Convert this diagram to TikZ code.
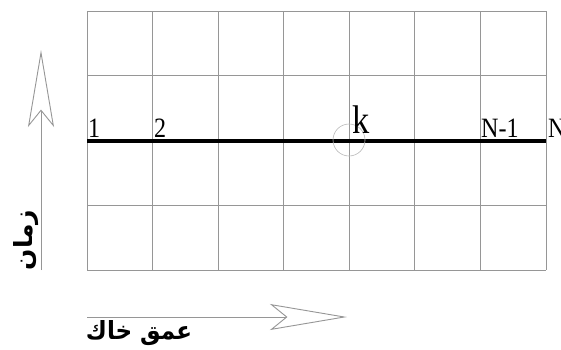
\documentclass[tikz,border=0pt]{standalone}
\usepackage{fontspec}
\setmainfont{Liberation Serif}
\newfontfamily\arabicfont[Script=Arabic]{DejaVu Sans}
\TeXXeTstate=1
\usetikzlibrary{arrows.meta,positioning}
\definecolor{gridgray}{RGB}{150,150,150}
\definecolor{ringgray}{RGB}{185,185,185}

\begin{document}
\begin{tikzpicture}[
  x=1pt, y=-1pt,
  gridline/.style={draw=gridgray, line width=0.9pt},
  nodeline/.style={draw=black, line width=3.2pt},
  num/.style={anchor=base west, inner sep=0pt, xscale=0.86, font=\fontsize{28}{28}\selectfont},
  arlabel/.style={inner sep=0pt, font=\fontsize{25}{25}\selectfont\arabicfont\bfseries},
  axis/.style={draw=gridgray, line width=0.9pt,
    -{Stealth[open, length=77pt, width=26pt, inset=16pt, fill=white]}}
]
\useasboundingbox (0,0) rectangle (561,349);

% mesh
\foreach \i in {0,...,7}
  \draw[gridline] (87+65.57*\i,11) -- (87+65.57*\i,270);
\foreach \j in {0,...,4}
  \draw[gridline] (87,11+64.75*\j) -- (546,11+64.75*\j);
\draw[nodeline] (87,141) -- (546,141);

\node[circle, draw=ringgray, line width=0.6pt, minimum size=32pt, inner sep=0pt] (ring) at (349,140) {};

\node[num] (n1) at (88,137) {1};
\node[num] (n2) at (154,137) {2};
\node[num, font=\fontsize{40}{40}\selectfont] (nk) at (352,133) {k};
\node[num] (nm) at (481,137) {N-1};
\node[num] (nn) at (548,137) {N};

% axes
\coordinate (tbot) at (41,270);
\coordinate (ttop) at (41,50);
\draw[axis] (tbot) -- (ttop);
\node[arlabel, rotate=90] (time) at (26,240) {\beginR زمان\endR};

\coordinate (dleft) at (87,317);
\coordinate (dright) at (347,317);
\draw[axis] (dleft) -- (dright);
\node[arlabel, xscale=0.92] (depth) at (139,333) {\beginR عمق خاك\endR};
\end{tikzpicture}
\end{document}
